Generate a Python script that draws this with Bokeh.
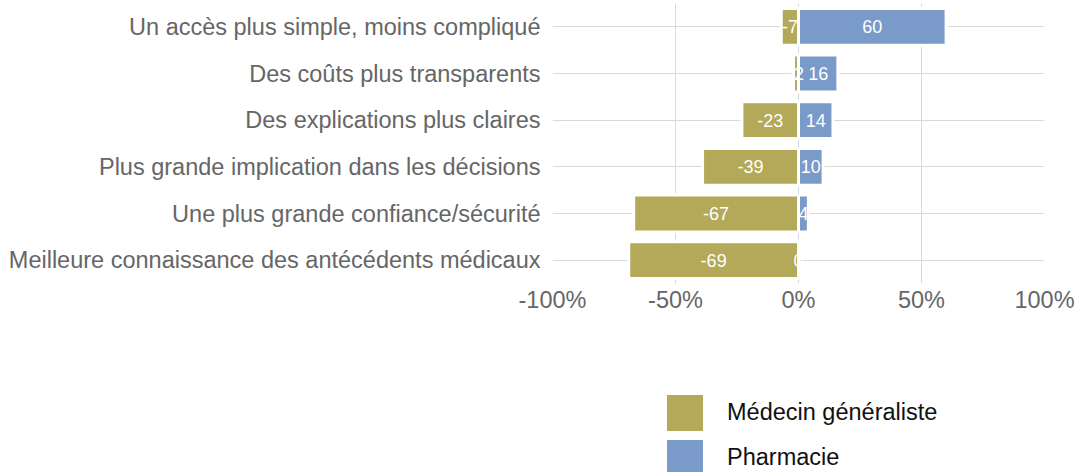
from bokeh.plotting import figure
from bokeh.layouts import column
from bokeh.models import ColumnDataSource, Legend, LegendItem, FixedTicker, CustomJSTickFormatter, Range1d
from bokeh.core.properties import value
from bokeh.embed import file_html
from bokeh.resources import INLINE

categories = [
    "Un accès plus simple, moins compliqué",
    "Des coûts plus transparents",
    "Des explications plus claires",
    "Plus grande implication dans les décisions",
    "Une plus grande confiance/sécurité",
    "Meilleure connaissance des antécédents médicaux",
]
medecin = [-7, -2, -23, -39, -67, -69]
pharmacie = [60, 16, 14, 10, 4, 0]
series_names = ["Médecin généraliste", "Pharmacie"]
x_ticks = [-100, -50, 0, 50, 100]

FONT = "Liberation Sans"
C_MED = "#B3A958"
C_PHA = "#7A9AC9"

factors = list(reversed(categories))

W = 1075
H_MAIN = 315
H_LEG = 157
BL = 552
BR = 31

p = figure(
    width=W, height=H_MAIN,
    y_range=factors, x_range=(-100, 100),
    output_backend="svg", toolbar_location=None,
    min_border_left=BL, min_border_right=BR,
    min_border_top=3, min_border_bottom=28,
)
p.outline_line_color = None


def mk_source(vals):
    return ColumnDataSource(dict(
        y=categories,
        left=[min(v, 0) for v in vals],
        right=[max(v, 0) for v in vals],
        mid=[v / 2 for v in vals],
        lab=[str(v) for v in vals],
    ))


src_m = mk_source(medecin)
src_p = mk_source(pharmacie)

p.hbar(y="y", left="left", right="right", height=0.79, source=src_m,
       fill_color=C_MED, line_color="white", line_width=3)
p.hbar(y="y", left="left", right="right", height=0.79, source=src_p,
       fill_color=C_PHA, line_color="white", line_width=3)

for s in (src_m, src_p):
    p.text(x="mid", y="y", text="lab", source=s, text_color="white",
           text_font=value(FONT), text_font_size="18px",
           text_align="center", text_baseline="middle")

p.xaxis.ticker = FixedTicker(ticks=x_ticks)
p.xaxis.formatter = CustomJSTickFormatter(code="return tick + '%';")
for ax in (p.xaxis[0], p.yaxis[0]):
    ax.axis_line_color = None
    ax.major_tick_line_color = None
    ax.minor_tick_line_color = None
    ax.major_tick_out = 0
    ax.major_tick_in = 0
    ax.major_label_text_font = FONT
    ax.major_label_text_font_size = "23.5px"
    ax.major_label_text_color = "#666666"
p.xaxis.major_label_standoff = 3
p.yaxis.major_label_standoff = 12

p.xgrid.grid_line_color = "#d9d9d9"
p.ygrid.grid_line_color = "#d9d9d9"
p.xgrid.level = "underlay"
p.ygrid.level = "underlay"

# legend figure (same side borders as the main plot, since the column aligns them)
p2 = figure(
    width=W, height=H_LEG, x_range=Range1d(0, 1), y_range=Range1d(0, 1),
    output_backend="svg", toolbar_location=None,
    min_border_left=BL, min_border_right=BR, min_border_top=0, min_border_bottom=0,
)
p2.axis.visible = False
p2.grid.visible = False
p2.outline_line_color = None
off = dict(y=[10], left=[10], right=[11])
lr_m = p2.hbar(y="y", left="left", right="right", height=0.5,
               source=ColumnDataSource(off), fill_color=C_MED, line_color=None)
lr_p = p2.hbar(y="y", left="left", right="right", height=0.5,
               source=ColumnDataSource(off), fill_color=C_PHA, line_color=None)

legend = Legend(
    items=[LegendItem(label=series_names[0], renderers=[lr_m]),
           LegendItem(label=series_names[1], renderers=[lr_p])],
    location=(110, -8),
    orientation="vertical",
    glyph_width=45, glyph_height=45, label_height=45,
    spacing=-2, padding=0, margin=0,
    label_standoff=20,
    label_text_font=FONT, label_text_font_size="23.5px",
    label_text_color="#111111",
    border_line_color=None, background_fill_alpha=0,
)
p2.add_layout(legend, "center")

layout = column(p, p2, spacing=0)
open("out.html", "w").write(file_html(layout, INLINE))
